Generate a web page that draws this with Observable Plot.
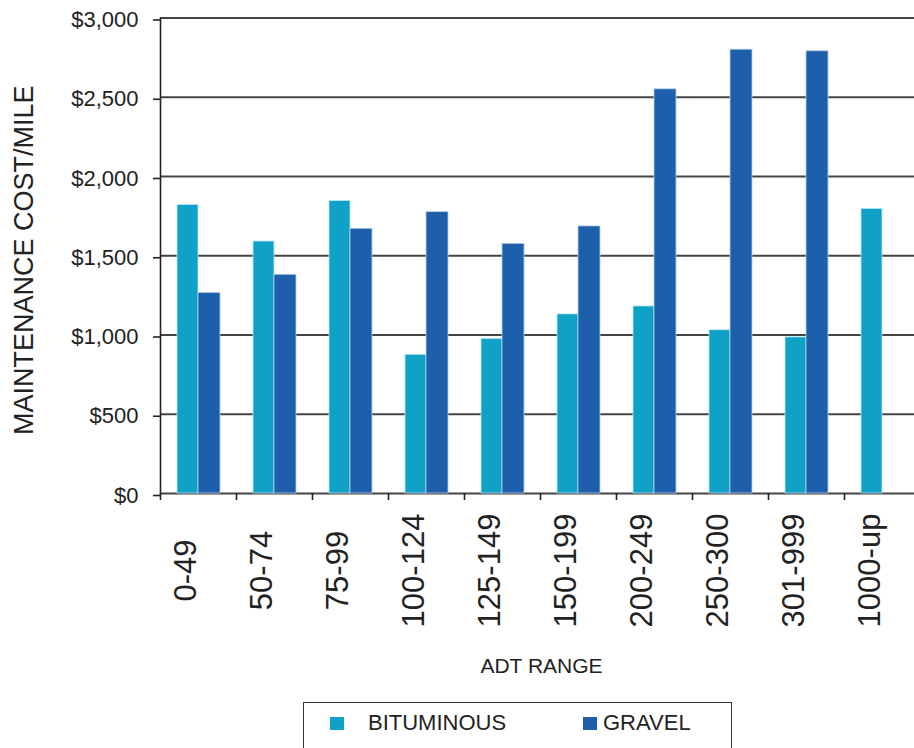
<!DOCTYPE html>
<html>
<head>
<meta charset="utf-8">
<script src="https://cdn.jsdelivr.net/npm/d3@7"></script>
<script src="https://cdn.jsdelivr.net/npm/@observablehq/plot@0.6"></script>
<style>
  html, body { margin: 0; padding: 0; background: #fff; overflow: hidden; }
  #wrap { position: relative; width: 914px; height: 748px; font-family: "Liberation Sans", Arial, sans-serif; color: #222; }
  #legend { position: absolute; left: 303px; top: 702px; width: 427px; height: 60px; border: 1.5px solid #333; border-bottom: none; }
  .sw { position: absolute; width: 14px; height: 13px; top: 14px; }
  .lbl { position: absolute; top: 7px; font-size: 22px; white-space: nowrap; }
</style>
</head>
<body>
<div id="wrap">
  <div id="chart"></div>
  <div id="legend"></div>
</div>
<script>
const categories = ["0-49","50-74","75-99","100-124","125-149","150-199","200-249","250-300","301-999","1000-up"];
const bituminous = [1820,1590,1845,875,975,1130,1180,1030,985,1795];
const gravel = [1265,1380,1670,1775,1575,1685,2550,2800,2790,null];
const seriesNames = ["BITUMINOUS","GRAVEL"];
const seriesColors = ["#10a1c6","#1d5fab"];
const yTicks = [0,500,1000,1500,2000,2500,3000];

const bitRows = categories.map((c,i) => ({category: c, value: bituminous[i]})).filter(d => d.value != null);
const gravRows = categories.map((c,i) => ({category: c, value: gravel[i]})).filter(d => d.value != null);

const chart = Plot.plot({
  width: 914,
  height: 700,
  marginLeft: 160,
  marginRight: 0,
  marginTop: 17.5,
  marginBottom: 207,
  x: {domain: categories, range: [160, 920], padding: 0, label: null},
  y: {domain: [0, 3000], label: null},
  style: {fontFamily: "'Liberation Sans', Arial, sans-serif", background: "white", color: "#222"},
  marks: [
    Plot.ruleY(yTicks, {stroke: "#444", strokeWidth: 1.8}),
    Plot.barY(bitRows, {x: "category", y: "value", fill: seriesColors[0], insetLeft: 17, insetRight: 38, stroke: "#bfe4f2", strokeWidth: 0.8}),
    Plot.barY(gravRows, {x: "category", y: "value", fill: seriesColors[1], insetLeft: 38, insetRight: 16, stroke: "#b9cde8", strokeWidth: 0.8}),
    Plot.frame({anchor: "left", stroke: "#222", strokeWidth: 1.6}),
    Plot.axisY({ticks: yTicks, tickSize: 7, tickPadding: 15, tickFormat: d => "$" + d3.format(",")(d), fontSize: 22, strokeWidth: 1.6, label: null, dy: 2}),
    Plot.axisX({tickSize: 7, tickFormat: () => "", dx: -38, strokeWidth: 1.6, label: null}),
    Plot.axisX({tickSize: 0, tickPadding: 77, tickRotate: -90, textAnchor: "middle", fontSize: 31, dx: -12, label: null}),
    Plot.text(["MAINTENANCE COST/MILE"], {text: d => d, frameAnchor: "left", textAnchor: "middle", dx: -136, dy: 4.5, rotate: -90, fontSize: 27, fill: "#222"}),
    Plot.text(["ADT RANGE"], {text: d => d, frameAnchor: "bottom", dx: 4, dy: 179, fontSize: 21, fill: "#222"})
  ]
});
document.getElementById("chart").appendChild(chart);

const legend = document.getElementById("legend");
const swX = [26, 279];
const lblX = [64, 299];
seriesNames.forEach((name, i) => {
  const sw = document.createElement("div");
  sw.className = "sw";
  sw.style.left = swX[i] + "px";
  sw.style.background = seriesColors[i];
  legend.appendChild(sw);
  const lb = document.createElement("div");
  lb.className = "lbl";
  lb.style.left = lblX[i] + "px";
  lb.textContent = name;
  legend.appendChild(lb);
});
</script>
</body>
</html>
